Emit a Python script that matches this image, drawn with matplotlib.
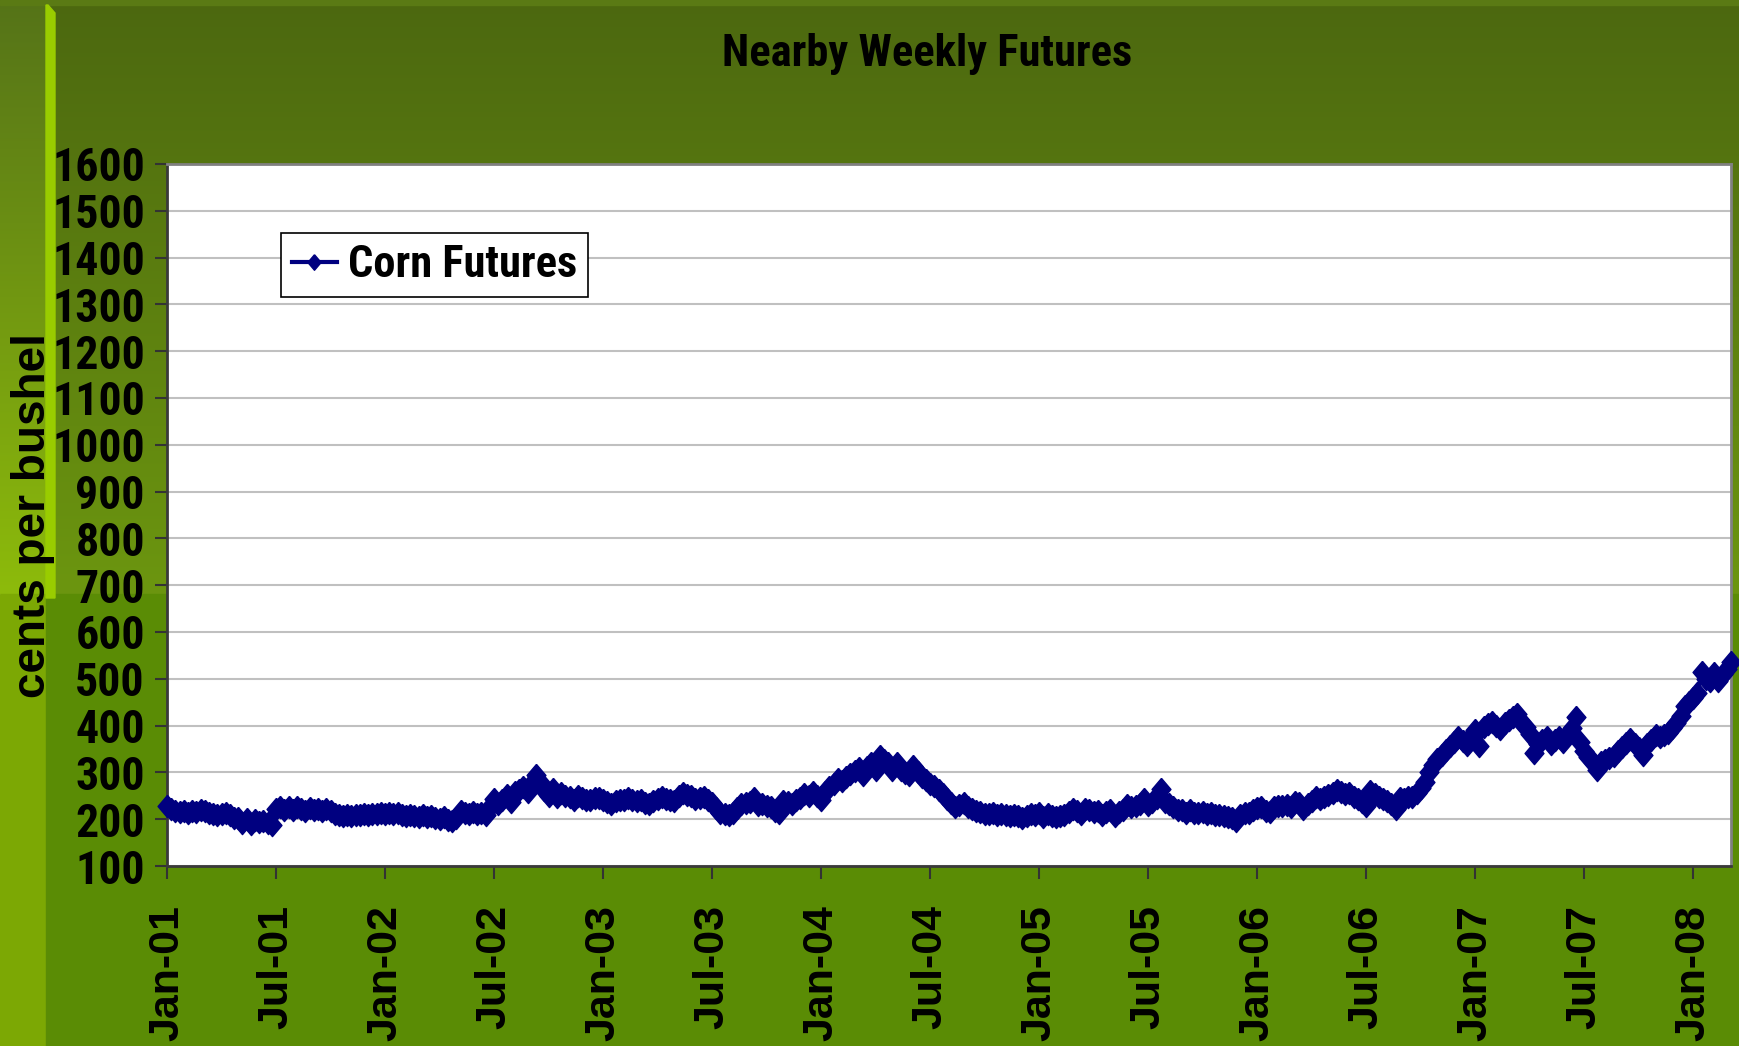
import matplotlib
matplotlib.use('Agg')
import matplotlib.pyplot as plt
import numpy as np
import pandas as pd
from matplotlib import font_manager
from matplotlib.font_manager import FontProperties
from matplotlib.patches import Polygon, Rectangle
from matplotlib.colors import LinearSegmentedColormap

# weekly nearby corn futures, cents per bushel
corn_2001 = [228, 222, 218, 215, 217, 214, 218, 215, 220, 217, 214, 212, 208, 211, 214, 208, 203, 202, 192, 200,
             190, 199, 193, 196, 192, 188,
             222, 226, 220, 227, 219, 226, 221, 218, 224, 219, 222, 218, 221, 217, 212, 210, 207, 209, 207, 210,
             209, 211, 210, 212, 211, 213]
corn_2002 = [212, 214, 211, 213, 209, 207, 210, 206, 204, 208, 205, 206, 203, 200, 204, 199, 196, 203, 218, 214,
             212, 215, 211, 213, 208, 226,
             244, 232, 240, 252, 236, 258, 262, 268, 258, 278, 294, 280, 262, 250, 264, 248, 256, 250, 247, 242,
             249, 246, 242, 240, 245, 246]
corn_2003 = [240, 236, 233, 238, 242, 240, 245, 241, 239, 240, 235, 232, 238, 243, 247, 243, 240, 238, 250, 256,
             251, 249, 243, 246, 247, 241,
             235, 224, 214, 211, 210, 213, 224, 232, 235, 236, 246, 231, 232, 229, 226, 218, 214, 239, 236, 233,
             240, 245, 254, 249, 259, 250]
corn_2004 = [240, 258, 269, 276, 285, 282, 290, 296, 303, 309, 295, 312, 320, 305, 335, 326, 320, 305, 320, 306,
             298, 294, 313, 300, 290, 283,
             275, 270, 262, 254, 244, 235, 226, 230, 235, 226, 222, 218, 215, 212, 211, 213, 208, 212, 209, 207,
             210, 207, 203, 206, 211, 209]
corn_2005 = [214, 205, 212, 206, 205, 207, 208, 215, 222, 218, 212, 221, 220, 215, 217, 210, 215, 220, 207, 215,
             220, 230, 225, 228, 232, 243,
             230, 236, 245, 265, 237, 232, 226, 220, 220, 213, 219, 214, 214, 216, 211, 213, 208, 210, 206, 205,
             203, 197, 209, 213, 214, 220]
corn_2006 = [224, 226, 218, 215, 226, 228, 229, 231, 227, 236, 234, 222, 232, 239, 248, 244, 247, 252, 256, 262,
             258, 254, 255, 248, 244, 236,
             228, 261, 254, 248, 243, 238, 232, 222, 245, 243, 247, 248, 255, 266, 280, 300, 315, 328, 338, 347,
             356, 366, 375, 368, 358, 378]
corn_2007 = [390, 356, 397, 404, 407, 400, 393, 405, 411, 418, 425, 407, 396, 382, 342, 361, 370, 375, 361, 370,
             375, 365, 380, 395, 418, 365,
             345, 333, 322, 305, 323, 326, 330, 336, 345, 354, 362, 372, 360, 352, 337, 361, 370, 379, 376, 379,
             384, 395, 405, 420, 441, 450]
corn_2008 = [458, 470, 515, 500, 495, 512, 495, 510, 522, 535]

corn = corn_2001 + corn_2002 + corn_2003 + corn_2004 + corn_2005 + corn_2006 + corn_2007 + corn_2008
dates = pd.date_range('2001-01-12', periods=len(corn), freq='7D')
yticks = list(range(100, 1700, 100))

W, H = 1740, 1046
plain = 'Liberation Sans'


def narrow_font():
    # look for a condensed bold sans; otherwise shrink the plain one
    entries = font_manager.fontManager.ttflist
    for name in ['Liberation Sans Narrow', 'Arial Narrow', 'Roboto Condensed', 'Open Sans Condensed']:
        if any(f.name == name for f in entries):
            return name, 'normal', 1.0
    for name in ['Roboto', 'Open Sans', 'DejaVu Sans', 'Noto Sans']:
        if any(f.name == name and f.stretch in ('condensed', 'semi-condensed', 'extra-condensed')
               for f in entries):
            return name, 'condensed', 1.0
    return plain, 'normal', 0.82


nfam, nstretch, nscale = narrow_font()


def nprop(size):
    return FontProperties(family=nfam, stretch=nstretch, weight='bold', size=size * nscale)


fig = plt.figure(figsize=(W / 100, H / 100), dpi=100)

# slide-style green background
bg = fig.add_axes([0, 0, 1, 1], zorder=-10)
bg.axis('off')


def vgrad(x0, x1, y0, y1, c0, c1):
    cmap = LinearSegmentedColormap.from_list('g', [c0, c1])
    grad = np.linspace(0, 1, 256).reshape(-1, 1)
    bg.imshow(grad, cmap=cmap, extent=(x0, x1, y1, y0), aspect='auto', interpolation='bicubic')


vgrad(0, W, 0, 594, '#4c6810', '#6c960f')
vgrad(0, 46, 0, 594, '#557318', '#8dbb0b')
bg.add_patch(Rectangle((0, 0), W, 5, color='#5a7a14'))
bg.add_patch(Rectangle((0, 594), 46, H - 594, color='#7ca804'))
bg.add_patch(Rectangle((46, 594), W - 46, H - 594, color='#5a8c05'))
bg.add_patch(Polygon([(46, 5), (48, 5), (55, 13), (55, 598), (46, 598)], closed=True, color='#99cc00'))
bg.set_xlim(0, W)
bg.set_ylim(H, 0)

ax = fig.add_axes([167 / W, 1 - 866 / H, (1731 - 167) / W, (866 - 164) / H])
ax.set_facecolor('white')

x = np.arange(len(corn))
diamond = [(0, 1), (0.85, 0), (0, -1), (-0.85, 0), (0, 1)]
ax.plot(x, corn, color='#000080', lw=3, marker=diamond, ms=16, mfc='#000080', mec='#000080',
        mew=1, clip_on=False, zorder=3, label='Corn Futures')

ax.set_xlim(0, len(corn) - 1)
ax.set_ylim(100, 1600)
ax.set_yticks(yticks)
ax.set_yticklabels([str(v) for v in yticks], fontproperties=nprop(33))
ax.set_xticks(x[::26])
ax.set_xticklabels(dates[::26].strftime('%b-%y'), rotation=90, fontsize=31, fontweight='bold', family=plain)
ax.grid(axis='y', color='#c0c0c0', lw=1.5)
ax.set_axisbelow(True)
ax.tick_params(axis='both', direction='out', length=9, width=1.5, color='#333333', labelcolor='black')
ax.tick_params(axis='x', pad=19)
ax.tick_params(axis='y', pad=7)
for s in ['left', 'bottom']:
    ax.spines[s].set_color('#3a3a3a')
    ax.spines[s].set_linewidth(2)
for s in ['top', 'right']:
    ax.spines[s].set_color('#808080')
    ax.spines[s].set_linewidth(2)

leg = ax.legend(loc='upper left', bbox_to_anchor=(281 / W, 1 - 233 / H), bbox_transform=fig.transFigure,
                prop=nprop(32), frameon=True, fancybox=False, markerscale=0.7,
                edgecolor='black', framealpha=1, borderpad=0.25, handlelength=1.0, handletextpad=0.25,
                borderaxespad=0, numpoints=1)
leg.get_frame().set_linewidth(1.2)

fig.text(927 / W, 1 - 66 / H, 'Nearby Weekly Futures', ha='center', va='baseline', fontproperties=nprop(32))
fig.text(33 / W, 1 - 516 / H, 'cents per bushel', rotation=90, ha='center', va='center', fontsize=33,
         fontweight='bold', family=plain)

fig.savefig('out.png', dpi=100)
